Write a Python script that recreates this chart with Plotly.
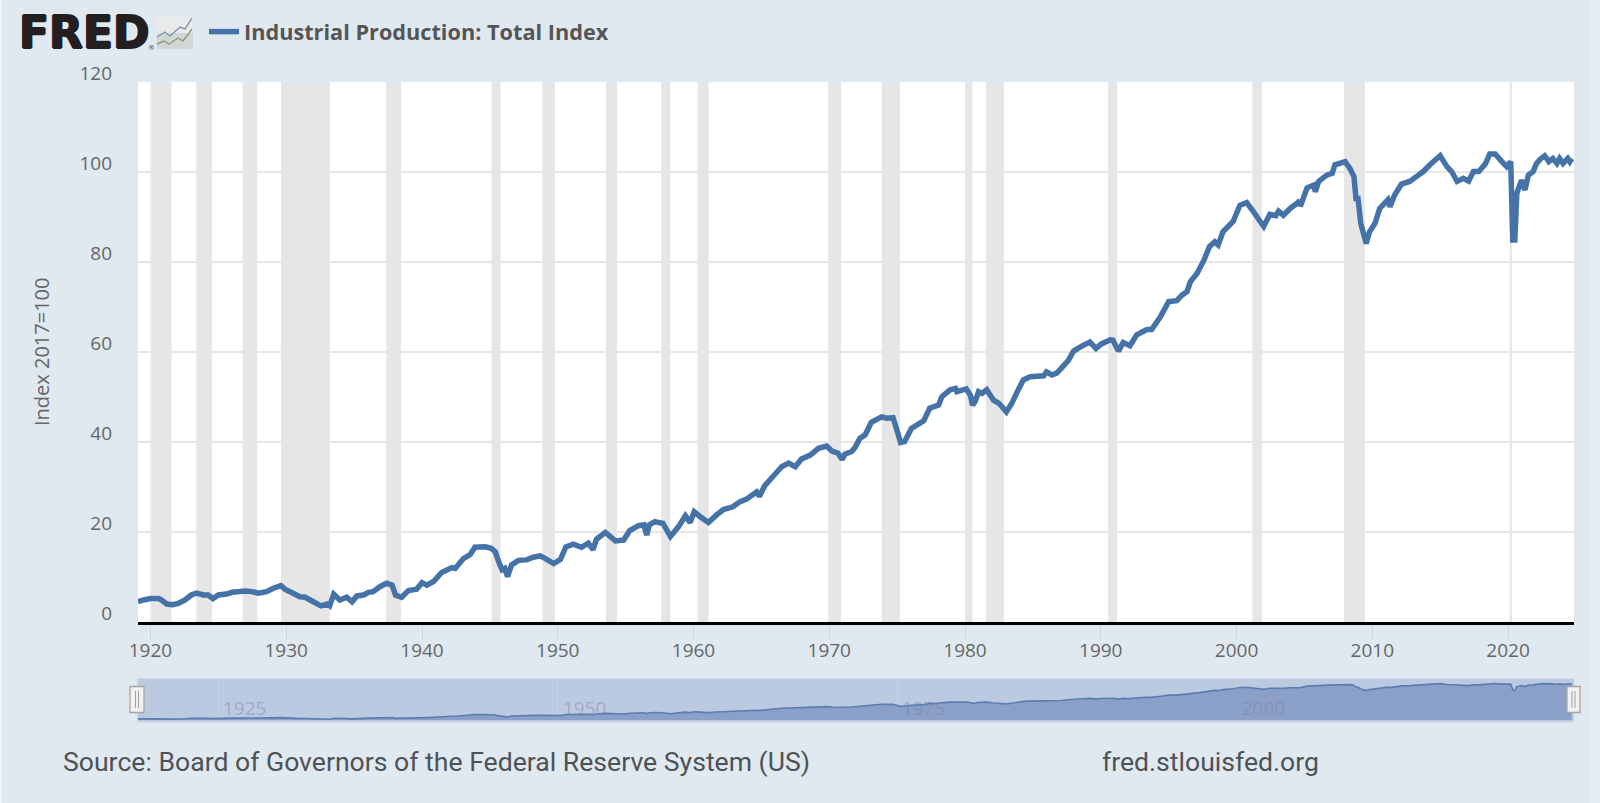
import plotly.graph_objects as go

W, H = 1600, 803
SERIES_NAME = "Industrial Production: Total Index"
Y_TITLE = "Index 2017=100"
SOURCE = "Source: Board of Governors of the Federal Reserve System (US)"
SITE = "fred.stlouisfed.org"
NAV_LABELS = [1925, 1950, 1975, 2000]

years = [
 1919.08,1919.5,1920.0,1920.6,1920.8,1921.2,1921.6,1922.05,1922.55,1923.0,1923.4,1923.9,1924.25,1924.6,1925.0,1925.6,
 1926.0,1927.0,1927.45,1927.95,1928.55,1929.05,1929.6,1929.9,1930.5,1931.0,1931.4,1932.0,1932.55,1933.0,1933.2,1933.5,
 1933.95,1934.45,1934.85,1935.2,1935.7,1936.05,1936.4,1936.9,1937.4,1937.8,1938.05,1938.5,1939.0,1939.6,1940.0,1940.35,
 1940.85,1941.45,1942.2,1942.45,1943.05,1943.55,1943.9,1944.65,1945.1,1945.4,1945.7,1945.9,1946.1,1946.3,1946.6,1947.1,
 1947.7,1948.2,1948.7,1949.1,1949.7,1950.2,1950.6,1951.15,1951.75,1952.25,1952.6,1952.85,1953.5,1953.75,1954.25,1954.85,
 1955.3,1955.95,1956.35,1956.55,1956.75,1957.15,1957.75,1958.3,1958.9,1959.4,1959.75,1960.05,1960.5,1961.1,1961.7,1962.2,
 1962.9,1963.4,1963.9,1964.65,1964.85,1965.25,1965.9,1966.5,1967.0,1967.5,1967.95,1968.6,1969.2,1969.8,1970.2,1970.65,
 1970.95,1971.15,1971.65,1971.9,1972.25,1972.65,1973.1,1973.85,1974.25,1974.7,1974.95,1975.25,1975.55,1976.05,1976.95,1977.4,
 1978.05,1978.3,1978.9,1979.3,1979.4,1980.1,1980.4,1980.55,1980.75,1981.0,1981.25,1981.6,1982.1,1982.5,1983.05,1983.45,
 1983.85,1984.3,1984.8,1985.8,1986.0,1986.4,1986.75,1987.1,1987.6,1988.0,1988.6,1989.2,1989.65,1990.05,1990.7,1990.9,
 1991.3,1991.65,1992.15,1992.65,1993.4,1993.75,1994.4,1995.0,1995.6,1996.0,1996.35,1996.6,1997.1,1997.6,1998.0,1998.4,
 1998.65,1999.0,1999.75,2000.25,2000.75,2001.15,2002.0,2002.45,2002.9,2003.1,2003.45,2003.95,2004.45,2004.65,2004.7,2005.2,
 2005.7,2005.8,2006.05,2006.65,2007.05,2007.25,2008.0,2008.35,2008.65,2008.8,2008.95,2009.15,2009.45,2009.55,2009.8,2010.2,
 2010.55,2011.15,2011.3,2011.65,2012.15,2012.75,2013.4,2013.75,2014.25,2015.0,2015.5,2015.85,2016.25,2016.7,2017.1,2017.45,
 2017.85,2018.35,2018.65,2019.05,2019.55,2019.9,2020.2,2020.35,2020.5,2020.65,2021.0,2021.25,2021.5,2021.85,2022.1,2022.35,
 2022.7,2023.0,2023.3,2023.6,2023.8,2024.05,2024.4,2024.55,2024.7,
]
index_values = [
 4.5,4.9,5.2,5.2,4.9,4.0,3.85,4.15,4.9,6.0,6.4,6.0,6.0,5.2,6.0,6.2,
 6.6,6.9,6.75,6.4,6.75,7.5,8.1,7.3,6.4,5.6,5.5,4.5,3.6,4.0,3.6,6.2,
 4.9,5.5,4.5,5.8,6.0,6.6,6.75,7.85,8.6,8.2,6.0,5.5,7.0,7.3,8.75,8.2,
 9.0,11.0,12.1,11.9,14.1,15.0,16.6,16.7,16.4,15.6,13.0,11.6,11.9,10.1,12.7,13.7,
 13.8,14.4,14.7,14.1,13.0,13.9,16.7,17.3,16.6,17.5,16.1,18.4,19.9,19.3,18.0,18.2,
 20.3,21.4,21.6,19.3,21.6,22.3,21.9,19.0,21.2,23.6,22.1,24.5,23.4,22.1,23.8,25.0,
 25.6,26.7,27.3,28.9,27.9,30.3,32.5,34.5,35.3,34.5,36.2,37.1,38.6,39.1,38.0,37.5,
 36.1,37.3,37.9,38.8,40.8,41.6,44.4,45.6,45.3,45.4,43.0,39.9,40.1,43.0,44.7,47.5,
 48.2,50.1,51.6,51.9,51.2,51.8,50.4,48.2,49.0,51.2,50.8,51.6,49.3,48.6,46.7,48.6,
 51.2,53.8,54.5,54.7,55.6,54.9,55.3,56.4,58.1,60.2,61.3,62.2,60.8,61.8,62.7,62.6,
 60.2,62.1,61.4,63.8,65.0,65.0,67.9,71.2,71.4,72.7,73.4,75.6,77.5,80.4,83.4,84.5,
 83.8,86.7,89.0,92.6,93.2,91.6,87.9,90.6,90.3,91.3,90.4,91.9,93.0,93.6,92.4,96.5,
 97.1,95.6,97.9,99.3,99.7,101.6,102.3,100.8,99.0,94.1,94.1,88.6,85.3,84.1,86.7,88.6,
 91.9,93.8,92.3,94.9,97.3,97.9,99.3,100.1,101.6,103.6,101.2,100.1,97.9,98.6,98.0,100.1,
 100.1,101.9,104.0,104.0,102.3,101.2,102.3,84.9,84.9,95.3,98.2,96.0,99.3,100.1,101.9,102.8,
 103.6,102.3,103.0,101.9,103.0,101.9,103.0,102.3,103.0,
]
recession_starts = [1920.0,1923.37,1926.79,1929.62,1937.37,1945.12,1948.87,1953.54,1957.62,1960.29,1969.92,1973.87,1980.0,1981.54,1990.54,2001.17,2007.92,2020.12]
recession_ends   = [1921.54,1924.54,1927.87,1933.21,1938.46,1945.79,1949.79,1954.37,1958.29,1961.12,1970.87,1975.21,1980.54,1982.87,1991.21,2001.87,2009.46,2020.29]

X_RANGE = [1919.08, 2024.86]
BG = "#e1e9f0"
TXT = "#666666"
LINE = "#4572a7"
L, R, T, B = 138, 1574, 82, 622
NT, NB = 679, 720.5


def px(x):
    return x / W


def py(y):
    return 1 - y / H


fig = go.Figure()
fig.add_trace(go.Scatter(x=years, y=index_values, mode="lines", name=SERIES_NAME,
                         line=dict(color=LINE, width=5.5, simplify=False), showlegend=True,
                         hoverinfo="x+y"))
fig.add_trace(go.Scatter(x=years, y=index_values, mode="lines", xaxis="x2", yaxis="y2",
                         line=dict(color="#5b7db2", width=1.6), fill="tozeroy",
                         fillcolor="#8ba0c8", showlegend=False, hoverinfo="skip"))

shapes = []
for s, e in zip(recession_starts, recession_ends):
    shapes.append(dict(type="rect", xref="x", yref="y domain", x0=s, x1=e, y0=0, y1=1,
                       fillcolor="#e6e6e6", line_width=0, layer="below"))
shapes.append(dict(type="rect", xref="paper", yref="paper", x0=px(1590), x1=1, y0=0, y1=1,
                   fillcolor="#e6ecf3", line_width=0, layer="below"))
shapes.append(dict(type="rect", xref="paper", yref="paper", x0=0, x1=px(2), y0=0, y1=1,
                   fillcolor="#f0f4f7", line_width=0, layer="below"))
shapes.append(dict(type="rect", xref="paper", yref="paper", x0=px(L - 1), x1=px(R), y0=py(723), y1=py(678),
                   fillcolor="#d3d9e4", line_width=0, layer="below"))
shapes.append(dict(type="rect", xref="x2 domain", yref="y2 domain", x0=0, x1=1, y0=0, y1=1,
                   fillcolor="#bccae1", line_width=0, layer="below"))
for x0, x1 in ((130, 144), (1567, 1580)):
    shapes.append(dict(type="rect", xref="paper", yref="paper", x0=px(x0), x1=px(x1), y0=py(712.5), y1=py(686.5),
                       fillcolor="#f2f2f2", line=dict(color="#a5a5a5", width=1.3), layer="above"))
    for dx in (-1.5, 1.5):
        xm = (x0 + x1) / 2 + dx
        shapes.append(dict(type="line", xref="paper", yref="paper", x0=px(xm), x1=px(xm), y0=py(708), y1=py(691),
                           line=dict(color="#a0a0a0", width=1), layer="above"))
shapes.append(dict(type="rect", xref="paper", yref="paper", x0=px(157), x1=px(193), y0=py(33), y1=py(17),
                   fillcolor="#e9eaea", line_width=0))
shapes.append(dict(type="rect", xref="paper", yref="paper", x0=px(157), x1=px(193), y0=py(49), y1=py(33),
                   fillcolor="#d3d6d7", line_width=0))


def icon_path(pts):
    return "M " + " L ".join(f"{px(a):.5f},{py(b):.5f}" for a, b in pts)


shapes.append(dict(type="path", xref="paper", yref="paper",
                   path=icon_path([(157, 37), (165, 32), (170, 36), (180, 27), (185, 29), (192, 18)]),
                   line=dict(color="#8195aa", width=1.4)))
shapes.append(dict(type="path", xref="paper", yref="paper",
                   path=icon_path([(157, 44), (164, 41), (169, 44), (178, 38), (183, 41), (192, 29)]),
                   line=dict(color="#83a070", width=1.4)))

annotations = [
    dict(text="<b>FRED</b>", xref="paper", yref="paper", x=px(17), y=py(33), xanchor="left", yanchor="middle",
         showarrow=False,
         font=dict(family="DejaVu Sans", size=44, color="#231f20",
                   shadow="1px 0 0 #231f20, -1px 0 0 #231f20, 0 1px 0 #231f20, 0 -1px 0 #231f20")),
    dict(text="®", xref="paper", yref="paper", x=px(151), y=py(48), xanchor="center", yanchor="middle",
         showarrow=False, font=dict(family="DejaVu Sans", size=7, color="#555555")),
    dict(text=SOURCE, xref="paper", yref="paper", x=px(61), y=py(761), xanchor="left", yanchor="middle",
         showarrow=False, font=dict(family="Roboto", size=26.6, color="#4d5256")),
    dict(text=SITE, xref="paper", yref="paper", x=px(1100), y=py(761), xanchor="left", yanchor="middle",
         showarrow=False, font=dict(family="Roboto", size=26.6, color="#4d5256")),
    dict(text=Y_TITLE, xref="paper", yref="paper", x=px(41), y=py(352), xanchor="center", yanchor="middle",
         textangle=-90, showarrow=False, font=dict(family="Open Sans", size=20, color=TXT)),
]
for yr in NAV_LABELS:
    annotations.append(dict(text=str(yr), xref="x2", yref="paper", x=yr, y=py(708), xanchor="left", yanchor="middle",
                            xshift=3, showarrow=False,
                            font=dict(family="Open Sans", size=19, color="rgba(120,130,155,0.45)")))

fig.update_layout(
    width=W, height=H, margin=dict(l=0, r=0, t=0, b=0, pad=0, autoexpand=False), autosize=False,
    paper_bgcolor=BG, plot_bgcolor="#ffffff",
    showlegend=True,
    legend=dict(x=px(204), y=py(32), xanchor="left", yanchor="middle", bgcolor="rgba(0,0,0,0)",
                font=dict(family="Open Sans", size=21.7, color="#555555", weight=700), itemwidth=30),
    shapes=shapes, annotations=annotations,
    xaxis=dict(domain=[px(L), px(R)], range=X_RANGE, tick0=1920, dtick=10, anchor="y",
               showgrid=False, zeroline=False, showline=True, linecolor="#000000", linewidth=3,
               ticks="outside", ticklen=15, tickwidth=1, tickcolor="#ccd6eb", ticklabelstandoff=-6,
               tickfont=dict(family="Open Sans", size=19, color=TXT)),
    yaxis=dict(domain=[py(B), py(T)], range=[0, 120], tick0=0, dtick=20, anchor="x",
               showgrid=True, gridcolor="#e6e6e6", gridwidth=1.5, zeroline=False, showline=False,
               ticks="", ticklabelstandoff=25, ticklabelshift=-9,
               tickfont=dict(family="Open Sans", size=19, color=TXT)),
    xaxis2=dict(domain=[px(L), px(R)], range=X_RANGE, tick0=1925, dtick=25, anchor="y2",
                showgrid=True, gridcolor="rgba(215,222,236,0.35)", gridwidth=1, zeroline=False,
                showticklabels=False, ticks=""),
    yaxis2=dict(domain=[py(NB), py(NT)], range=[0, 116.6], anchor="x2", showgrid=False, zeroline=False,
                showticklabels=False, ticks=""),
)

fig.write_html("out.html", config=dict(displayModeBar=False),
               post_script="document.body.style.margin='0';document.body.style.overflow='hidden';")
